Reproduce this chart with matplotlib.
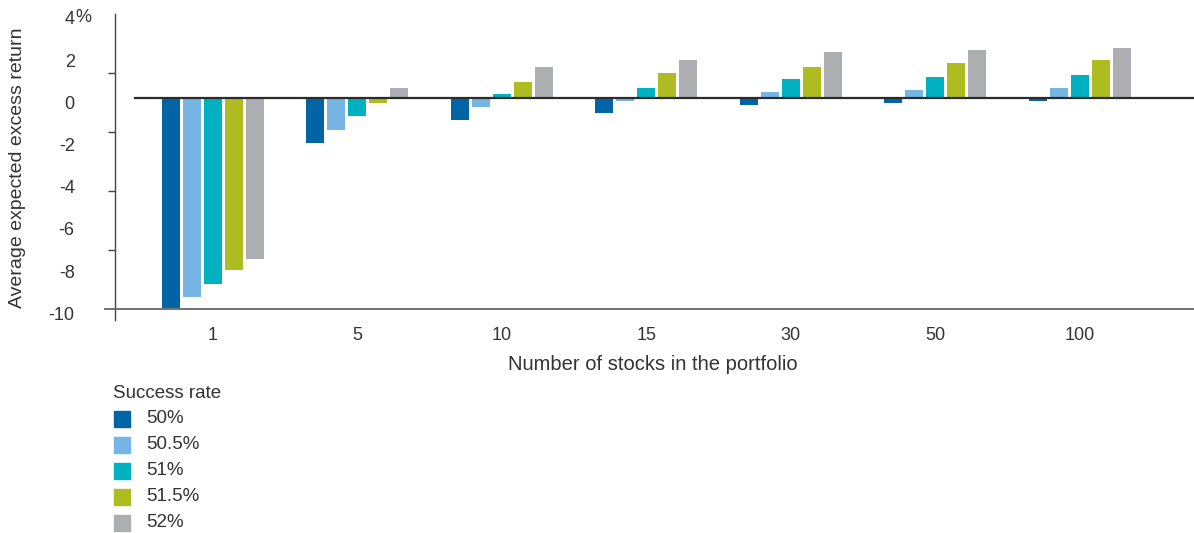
import numpy as np
import matplotlib.pyplot as plt
from matplotlib.lines import Line2D
from matplotlib.patches import Rectangle
from matplotlib.transforms import ScaledTranslation

plt.rcParams['font.family'] = ['Liberation Sans', 'DejaVu Sans']

# Data
portfolio_sizes = ['1', '5', '10', '15', '30', '50', '100']
success_rates = ['50%', '50.5%', '51%', '51.5%', '52%']
ret_50 = [-9.92, -2.10, -1.01, -0.68, -0.30, -0.21, -0.11]
ret_505 = [-9.40, -1.49, -0.40, -0.11, 0.30, 0.39, 0.49]
ret_51 = [-8.79, -0.82, 0.20, 0.49, 0.91, 1.01, 1.10]
ret_515 = [-8.13, -0.21, 0.77, 1.20, 1.48, 1.67, 1.82]
ret_52 = [-7.60, 0.49, 1.48, 1.82, 2.19, 2.29, 2.38]
ytick_vals = [4, 2, 0, -2, -4, -6, -8, -10]
ytick_labels = ['4', '2', '0', '-2', '-4', '-6', '-8', '-10']

series = [ret_50, ret_505, ret_51, ret_515, ret_52]
colors = ['#0064A5', '#77B6E4', '#00B1C1', '#AEBC21', '#ADAEB1']
txt = '#333333'

W, H = 1194, 533
fig = plt.figure(figsize=(W / 100, H / 100), dpi=100)
ax = fig.add_axes([115 / W, 1 - 309.3 / H, (W - 115) / W, (309.3 - 13.9) / H])

x = np.arange(len(portfolio_sizes))
width = 0.1246
pitch = 0.1453
for i, (vals, c) in enumerate(zip(series, colors)):
    ax.bar(x + (i - 2) * pitch, vals, width, color=c, zorder=2)

ax.set_xlim(-0.678, 6.79)
ax.set_ylim(-10, 4)

# zero line
ax.plot([-0.54, 6.79], [0, 0], color='#2b2b2b', lw=1.6, zorder=3, clip_on=False)

for s in ax.spines.values():
    s.set_visible(False)
# axis lines crossing at lower-left
ax.add_line(Line2D([0, 0], [-0.035, 1.0], transform=ax.transAxes, color='#444444',
                   lw=1.0, clip_on=False))
ax.add_line(Line2D([-0.009, 1.0], [0, 0], transform=ax.transAxes, color='#666666',
                   lw=1.3, clip_on=False))

# y ticks: labels at every 2, marks at six evenly spaced points
ax.set_yticks(ytick_vals)
ax.set_yticklabels(ytick_labels)
ax.set_yticks(np.linspace(-10, 4, 6), minor=True)
ax.tick_params(axis='y', which='major', length=0, pad=29, labelsize=13, labelcolor=txt)
ax.tick_params(axis='y', which='minor', length=5, width=1.0, color='#444444', direction='out')
shift = ScaledTranslation(0, -4 / 100, fig.dpi_scale_trans)
for lab in ax.get_yticklabels():
    lab.set_transform(lab.get_transform() + shift)
ax.text(0, 4, '%', transform=ax.get_yaxis_transform() + ScaledTranslation(-40 / 100, -4 / 100, fig.dpi_scale_trans),
        ha='left', va='center', fontsize=13, color=txt)

ax.set_xticks(x)
ax.set_xticklabels(portfolio_sizes)
ax.tick_params(axis='x', length=0, pad=13, labelsize=13, labelcolor=txt)

fig.text(653 / W, 1 - 365 / H, 'Number of stocks in the portfolio', ha='center', va='center',
         fontsize=14.5, color=txt)
fig.text(18 / W, 1 - 168 / H, 'Average expected excess return', ha='center', va='center',
         rotation=90, fontsize=14, color=txt)

# legend
fig.text(113 / W, 1 - 393 / H, 'Success rate', ha='left', va='center', fontsize=13.5, color=txt)
for i, (lab, c) in enumerate(zip(success_rates, colors)):
    yc = 418.7 + 26 * i
    fig.patches.append(Rectangle((114 / W, 1 - (yc + 8) / H), 16 / W, 16 / H,
                                 transform=fig.transFigure, color=c))
    fig.text(146 / W, 1 - yc / H, lab, ha='left', va='center', fontsize=13.5, color=txt)

fig.savefig('out.png', dpi=100)
